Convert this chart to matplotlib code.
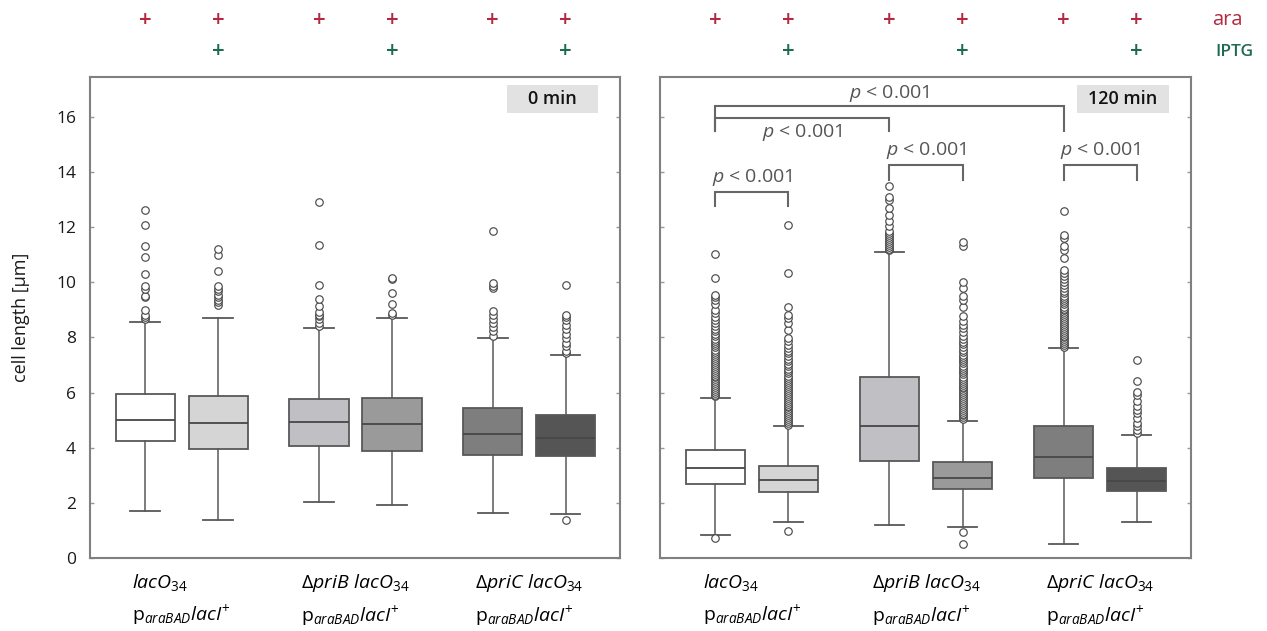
import matplotlib
matplotlib.use("Agg")
import matplotlib.pyplot as plt
from matplotlib.patches import Rectangle
from matplotlib.transforms import blended_transform_factory

plt.rcParams['font.family'] = ['Open Sans', 'DejaVu Sans']
plt.rcParams['mathtext.fontset'] = 'custom'
plt.rcParams['mathtext.rm'] = 'Open Sans'
plt.rcParams['mathtext.it'] = 'Open Sans:italic'
plt.rcParams['mathtext.bf'] = 'Open Sans:bold'

# ---------------- data ----------------
strain_names = [r"lacO", r"\Delta priB\ lacO", r"\Delta priC\ lacO"]
panel_titles = ["0 min", "120 min"]
ara = ['+', '+', '+', '+', '+', '+']
iptg = ['', '+', '', '+', '', '+']
y_ticks = [0, 2, 4, 6, 8, 10, 12, 14, 16]

# 0 min
med_0 = [5.02, 4.89, 4.95, 4.85, 4.50, 4.35]
q1_0 = [4.23, 3.97, 4.05, 3.87, 3.72, 3.71]
q3_0 = [5.96, 5.89, 5.77, 5.80, 5.45, 5.19]
lo_0 = [1.69, 1.39, 2.03, 1.91, 1.64, 1.58]
hi_0 = [8.56, 8.71, 8.33, 8.72, 7.99, 7.36]
fl_0_a = [8.67, 8.74, 8.83, 9.01, 9.47, 9.52, 9.76, 9.85, 10.30, 10.93, 11.31, 12.07, 12.61]
fl_0_b = [9.18, 9.28, 9.37, 9.47, 9.55, 9.67, 9.76, 9.88, 10.40, 11.0, 11.21]
fl_0_c = [8.43, 8.52, 8.67, 8.77, 8.82, 8.92, 9.15, 9.40, 9.92, 11.35, 12.91]
fl_0_d = [8.83, 8.89, 9.20, 9.61, 10.12, 10.16]
fl_0_e = [8.07, 8.22, 8.37, 8.52, 8.67, 8.82, 8.97, 9.79, 9.88, 9.98, 11.85]
fl_0_f = [1.37, 7.44, 7.50, 7.68, 7.80, 7.98, 8.14, 8.31, 8.47, 8.65, 8.75, 8.83, 9.89]

# 120 min
med_120 = [3.25, 2.84, 4.78, 2.90, 3.68, 2.81]
q1_120 = [2.70, 2.38, 3.53, 2.50, 2.90, 2.42]
q3_120 = [3.93, 3.35, 6.55, 3.48, 4.78, 3.25]
lo_120 = [0.83, 1.29, 1.21, 1.11, 0.51, 1.31]
hi_120 = [5.80, 4.78, 11.10, 4.98, 7.61, 4.46]
fl_120_a = [0.73, 5.86, 5.92, 5.99, 6.06, 6.13, 6.2, 6.27, 6.34, 6.41, 6.48, 6.55, 6.62,
            6.69, 6.76, 6.83, 6.9, 6.97, 7.04, 7.11, 7.18, 7.25, 7.32, 7.4, 7.48, 7.56,
            7.64, 7.72, 7.8, 7.88, 7.96, 8.05, 8.14, 8.23, 8.32, 8.42, 8.52, 8.62, 8.75,
            8.88, 9.0, 9.2, 9.37, 9.47, 9.55, 10.17, 11.02]
fl_120_b = [0.97, 4.84, 4.9, 4.97, 5.04, 5.11, 5.18, 5.25, 5.32, 5.39, 5.46, 5.53, 5.6,
            5.67, 5.74, 5.81, 5.88, 5.95, 6.02, 6.09, 6.16, 6.23, 6.3, 6.38, 6.46, 6.54,
            6.62, 6.7, 6.78, 6.86, 6.95, 7.04, 7.13, 7.22, 7.32, 7.42, 7.52, 7.62, 7.74,
            7.86, 7.98, 8.28, 8.52, 8.7, 8.83, 9.09, 10.34, 12.07]
fl_120_c = [11.16, 11.22, 11.28, 11.35, 11.42, 11.49, 11.56, 11.63, 11.7, 11.78, 11.85,
            12.03, 12.21, 12.45, 12.70, 13.0, 13.10, 13.48]
fl_120_d = [0.52, 0.93, 5.04, 5.1, 5.17, 5.24, 5.31, 5.38, 5.45, 5.52, 5.59, 5.66, 5.73,
            5.8, 5.87, 5.94, 6.01, 6.08, 6.15, 6.22, 6.29, 6.36, 6.43, 6.5, 6.58, 6.66,
            6.74, 6.82, 6.9, 6.98, 7.06, 7.14, 7.22, 7.3, 7.38, 7.47, 7.56, 7.65, 7.75,
            7.85, 7.96, 8.07, 8.2, 8.33, 8.46, 8.6, 8.77, 9.10, 9.35, 9.52, 9.79, 10.0,
            11.31, 11.46]
fl_120_e = [7.66, 7.72, 7.79, 7.86, 7.93, 8.0, 8.07, 8.14, 8.21, 8.28, 8.35, 8.42, 8.49,
            8.56, 8.63, 8.7, 8.77, 8.84, 8.91, 8.98, 9.05, 9.12, 9.2, 9.28, 9.36, 9.44,
            9.52, 9.6, 9.7, 9.8, 9.9, 10.0, 10.12, 10.24, 10.35, 10.46, 10.88, 11.19,
            11.31, 11.61, 11.73, 12.60]
fl_120_f = [4.53, 4.66, 4.78, 4.90, 5.08, 5.26, 5.38, 5.50, 5.68, 5.93, 6.01, 6.41, 7.19]

fliers_0 = [fl_0_a, fl_0_b, fl_0_c, fl_0_d, fl_0_e, fl_0_f]
fliers_120 = [fl_120_a, fl_120_b, fl_120_c, fl_120_d, fl_120_e, fl_120_f]

# ---------------- styling ----------------
box_colors = ['#ffffff', '#d5d5d5', '#c0bfc4', '#9a9a9a', '#7e7e7e', '#555555']
line_col = '#585858'
red = '#b32a40'
green = '#1e6b4f'
group_pos = [0, 1, 2]
off = 0.21
positions = []
for g in group_pos:
    positions += [g - off, g + off]

fig = plt.figure(figsize=(12.67, 6.31), dpi=100)
axL = fig.add_axes([0.0710, 0.1157, 0.4183, 0.7623])
axR = fig.add_axes([0.5209, 0.1157, 0.4191, 0.7623])

xlabels = [r"$\mathit{" + s + r"}_{\mathit{34}}$" + "\n" +
           r"$\mathrm{p}_{\mathit{araBAD}}\mathit{lacI}^{+}$" for s in strain_names]


def draw_panel(ax, med, q1, q3, lo, hi, fliers, title):
    stats = []
    for i in range(6):
        stats.append(dict(med=med[i], q1=q1[i], q3=q3[i], whislo=lo[i],
                          whishi=hi[i], fliers=fliers[i]))
    res = ax.bxp(stats, positions=positions, widths=0.34, capwidths=0.17,
                 patch_artist=True, manage_ticks=False,
                 boxprops=dict(edgecolor=line_col, linewidth=1.3),
                 medianprops=dict(color='#474747', linewidth=1.3),
                 whiskerprops=dict(color=line_col, linewidth=1.1),
                 capprops=dict(color=line_col, linewidth=1.3),
                 flierprops=dict(marker='o', markersize=5.4, markerfacecolor='white',
                                 markeredgecolor='#4a4a4a', markeredgewidth=0.85,
                                 linestyle='none'))
    for b, c in zip(res['boxes'], box_colors):
        b.set_facecolor(c)
    ax.set_xlim(-0.528, 2.522)
    ax.set_ylim(0, 17.45)
    ax.set_yticks(y_ticks)
    ax.tick_params(axis='y', direction='in', length=3, width=1, color='#999999',
                   left=True, right=True, labelsize=12.5, pad=10, labelcolor='#1a1a1a')
    ax.set_xticks(group_pos)
    ax.set_xticklabels(xlabels, fontsize=14, linespacing=1.55)
    for t in ax.get_xticklabels():
        t.set_multialignment('left')
    ax.tick_params(axis='x', length=0, pad=10)
    for s in ax.spines.values():
        s.set_color('#808080')
        s.set_linewidth(1.5)
    # panel title box
    ax.add_patch(Rectangle((0.786, 0.925), 0.172, 0.058, transform=ax.transAxes,
                           facecolor='#e2e2e2', edgecolor='none', zorder=3))
    ax.text(0.872, 0.954, title, transform=ax.transAxes, ha='center', va='center',
            fontsize=13, fontweight='semibold', color='#111111', zorder=4)
    # treatment marks
    tr = blended_transform_factory(ax.transData, ax.transAxes)
    for x, a, p in zip(positions, ara, iptg):
        ax.text(x, 1.118, a, transform=tr, ha='center', va='center', color=red,
                fontsize=16, fontweight='semibold', clip_on=False)
        ax.text(x, 1.052, p, transform=tr, ha='center', va='center', color=green,
                fontsize=16, fontweight='semibold', clip_on=False)


draw_panel(axL, med_0, q1_0, q3_0, lo_0, hi_0, fliers_0, panel_titles[0])
draw_panel(axR, med_120, q1_120, q3_120, lo_120, hi_120, fliers_120, panel_titles[1])
axR.tick_params(axis='y', labelleft=False)
axL.set_ylabel("cell length [µm]", fontsize=13, labelpad=19, color='#1a1a1a')

axR.text(1.040, 1.118, 'ara', transform=axR.transAxes, ha='left', va='center',
         color=red, fontsize=14.5, clip_on=False)
axR.text(1.046, 1.052, 'IPTG', transform=axR.transAxes, ha='left', va='center',
         color=green, fontsize=12.5, fontweight='semibold', clip_on=False)

# significance brackets (120 min)
bcol = '#666666'
ptxt = r"$\mathit{p}$ < 0.001"


def bracket(ax, x1, x2, ytop, yb1, yb2):
    ax.plot([x1, x1, x2, x2], [yb1, ytop, ytop, yb2], color=bcol, lw=1.5,
            solid_joinstyle='miter', zorder=3)


P = positions
fs_p = 14
bracket(axR, P[0], P[1], 13.28, 12.76, 12.76)
axR.text((P[0] + P[1]) / 2, 13.8, ptxt, ha='center', va='center', fontsize=fs_p, color='#555555')
bracket(axR, P[2], P[3], 14.26, 13.72, 13.72)
axR.text((P[2] + P[3]) / 2, 14.8, ptxt, ha='center', va='center', fontsize=fs_p, color='#555555')
bracket(axR, P[4], P[5], 14.26, 13.72, 13.72)
axR.text((P[4] + P[5]) / 2, 14.8, ptxt, ha='center', va='center', fontsize=fs_p, color='#555555')
bracket(axR, P[0], P[2], 15.96, 15.5, 15.5)
axR.text((P[0] + P[2]) / 2, 15.42, ptxt, ha='center', va='center', fontsize=fs_p, color='#555555')
bracket(axR, P[0], P[4], 16.38, 15.5, 15.5)
axR.text((P[0] + P[4]) / 2, 16.86, ptxt, ha='center', va='center', fontsize=fs_p, color='#555555')

fig.savefig('out.png', dpi=100)
